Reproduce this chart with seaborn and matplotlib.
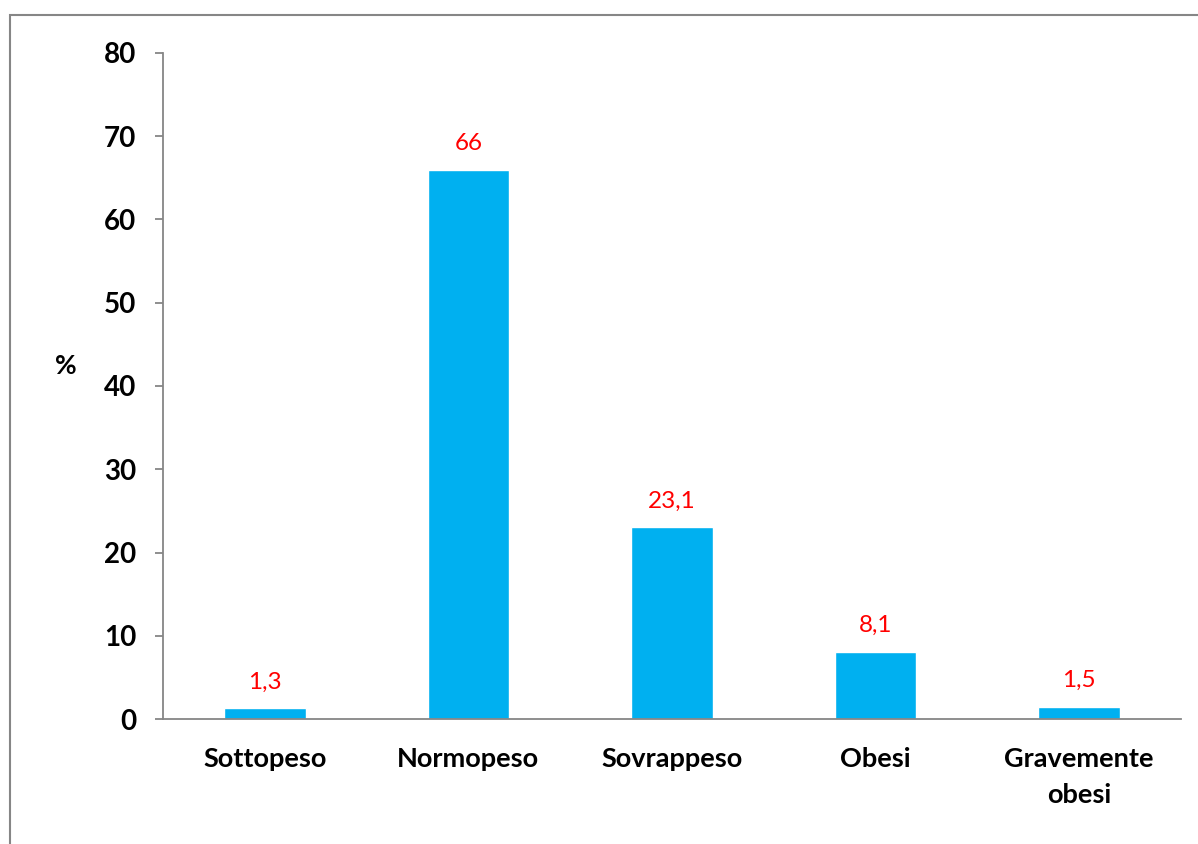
import matplotlib
matplotlib.use("Agg")
import matplotlib.pyplot as plt
import seaborn as sns
import pandas as pd
from matplotlib.patches import Rectangle

categories = ["Sottopeso", "Normopeso", "Sovrappeso", "Obesi", "Gravemente\nobesi"]
percent = [1.3, 66, 23.1, 8.1, 1.5]
bar_labels = ["1,3", "66", "23,1", "8,1", "1,5"]
y_ticks = [0, 10, 20, 30, 40, 50, 60, 70, 80]

sns.set_style("white")
plt.rcParams["font.family"] = ["Lato", "DejaVu Sans"]
plt.rcParams["text.color"] = "black"
plt.rcParams["xtick.labelcolor"] = "black"
plt.rcParams["ytick.labelcolor"] = "black"

df = pd.DataFrame({"cat": categories, "val": percent})

fig = plt.figure(figsize=(11.98, 8.44), dpi=100)
ax = fig.add_axes([163 / 1198, 1 - 719 / 844, (1181 - 163) / 1198, (719 - 53) / 844])

sns.barplot(data=df, x="cat", y="val", color="#00B0F0", saturation=1, width=0.4, ax=ax)

for i, (v, lab) in enumerate(zip(percent, bar_labels)):
    ax.annotate(lab, (i, v), xytext=(0, 11), textcoords="offset points",
                ha="center", va="bottom", color="red", fontsize=17.5)

ax.set_xlim(-0.5, len(categories) - 0.5)
ax.set_ylim(0, 80)
ax.set_yticks(y_ticks)
ax.set_xlabel("")
ax.set_ylabel("%", rotation=0, fontsize=19, fontweight="bold", va="center", color="black")
ax.yaxis.set_label_coords(-0.095, 0.53)

gray = "#868686"
for s in ["top", "right"]:
    ax.spines[s].set_visible(False)
for s in ["left", "bottom"]:
    ax.spines[s].set_color(gray)
    ax.spines[s].set_linewidth(1.3)

ax.set_xticks([i - 0.5 for i in range(len(categories) + 1)], minor=True)
ax.tick_params(axis="x", which="major", length=0, pad=20, labelsize=19.5)
ax.tick_params(axis="x", which="minor", length=7, width=1.3, color=gray, direction="out")
ax.tick_params(axis="y", length=6, width=1.3, color=gray, direction="out", pad=13, labelsize=20, left=True)
for t in ax.get_xticklabels() + ax.get_yticklabels():
    t.set_fontweight("bold")
    t.set_linespacing(1.6)

fig.patches.append(Rectangle((10 / 1198, -0.1), 1.2, 1 - 15 / 844 + 0.1,
                             transform=fig.transFigure, fill=False,
                             edgecolor=gray, linewidth=1.5))

fig.savefig("out.png", dpi=100)
